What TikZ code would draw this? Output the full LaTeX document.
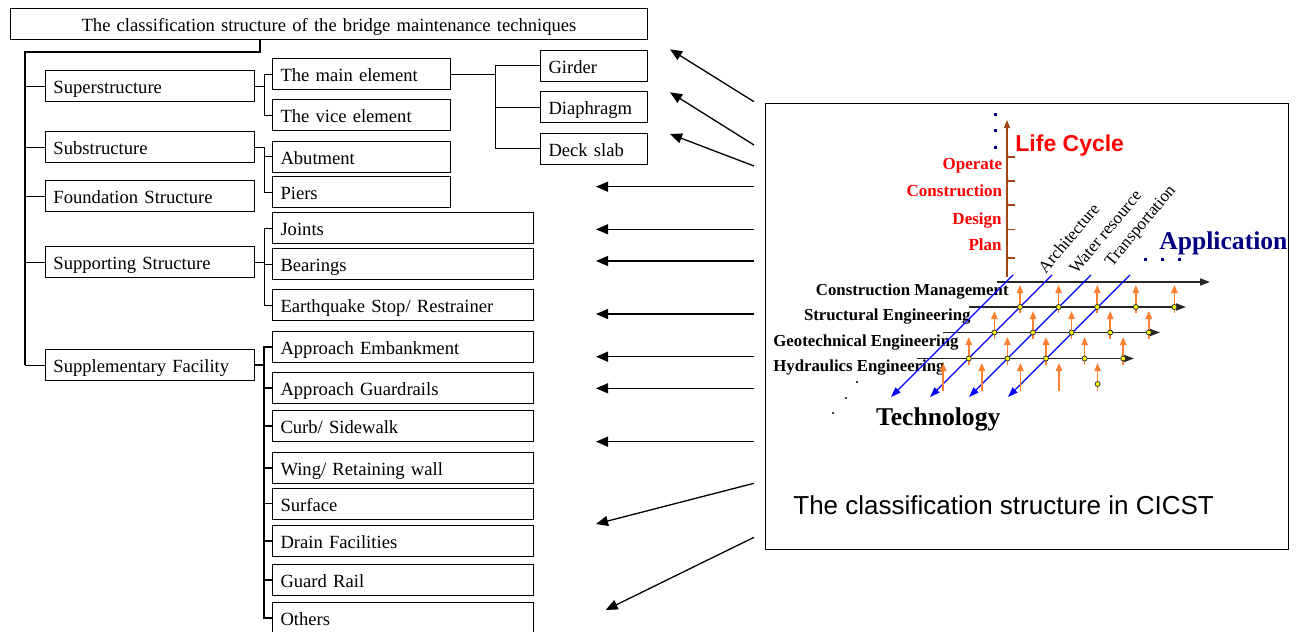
\documentclass[tikz,border=0pt]{standalone}
\usepackage{fontspec}
\setmainfont{Liberation Serif}
\newfontfamily\arialfont{Liberation Sans}
\usetikzlibrary{arrows.meta}
\definecolor{lcred}{RGB}{255,0,0}
\definecolor{axisbrown}{RGB}{160,70,20}
\definecolor{appnavy}{RGB}{0,0,128}
\definecolor{uporange}{RGB}{255,128,48}
\definecolor{dotyellow}{RGB}{255,255,0}

\begin{document}
\begin{tikzpicture}[x=0.5pt, y=-0.5pt,
    every node/.style={inner sep=0pt},
    box/.style={draw, line width=0.5pt, anchor=west, minimum height=15.5pt,
        text height=9.5pt, text depth=2pt, inner xsep=4pt, align=left,
        font=\fontsize{9.3}{11}\selectfont, text width=#1},
    link/.style={line width=0.5pt},
    pointer/.style={line width=0.65pt, -{Triangle[length=6pt,width=5pt]}},
    lcaxis/.style={axisbrown, line width=0.8pt},
    stage/.style={lcred, font=\bfseries\fontsize{8.5}{10}\selectfont, anchor=base east},
    techline/.style={black!85, line width=0.8pt, -{Triangle[length=5pt,width=3.5pt]}},
    techlab/.style={font=\bfseries\fontsize{8.4}{10}\selectfont, anchor=base east},
    appline/.style={blue, line width=0.6pt, -{Triangle[length=5pt,width=3.5pt]}},
    applab/.style={font=\fontsize{8.5}{10}\selectfont, rotate=50, anchor=south west},
    uparr/.style={uporange, line width=0.75pt, -{Triangle[length=4pt,width=3.2pt]}},
    gdot/.style={fill=dotyellow, draw=black!80, line width=0.4pt}]
    \useasboundingbox (0,0) rectangle (1298,632);

    % classification tree
    \node [box=310.5pt, align=center] (title) at (10,23.5)
        {The classification structure of the bridge maintenance techniques};

    \node [box=96.5pt] (super) at (45,86) {Superstructure};
    \node [box=96.5pt] (sub) at (45,147) {Substructure};
    \node [box=96.5pt] (found) at (45,196) {Foundation Structure};
    \node [box=96.5pt] (support) at (45,262) {Supporting Structure};
    \node [box=96.5pt] (supple) at (45,365) {Supplementary Facility};

    \node [box=81pt] (mainel) at (272,74) {The main element};
    \node [box=81pt] (viceel) at (272,115) {The vice element};
    \node [box=81pt] (abut) at (272,156.5) {Abutment};
    \node [box=81pt] (piers) at (272,192) {Piers};
    \node [box=122.5pt] (joints) at (272,228) {Joints};
    \node [box=122.5pt] (bearings) at (272,264) {Bearings};
    \node [box=122.5pt] (quake) at (272,305) {Earthquake Stop/ Restrainer};
    \node [box=122.5pt] (embank) at (272,347) {Approach Embankment};
    \node [box=122.5pt] (guardr) at (272,388) {Approach Guardrails};
    \node [box=122.5pt] (curb) at (272,426) {Curb/ Sidewalk};
    \node [box=122.5pt] (wing) at (272,468) {Wing/ Retaining wall};
    \node [box=122.5pt] (surface) at (272,503.5) {Surface};
    \node [box=122.5pt] (drain) at (272,541) {Drain Facilities};
    \node [box=122.5pt] (grail) at (272,580) {Guard Rail};
    \node [box=122.5pt] (others) at (272,618) {Others};

    \node [box=45.5pt] (girder) at (540,65.5) {Girder};
    \node [box=45.5pt] (diaph) at (540,107) {Diaphragm};
    \node [box=45.5pt] (deck) at (540,148.7) {Deck slab};

    \coordinate (trunk) at (25,52);
    \draw [link, line width=0.9pt] ([xshift=125pt]title.south west) |- (trunk) -- (trunk |- supple.west);
    \foreach \n in {super,sub,found,support,supple}
        \draw [link] (trunk |- \n.west) -- (\n.west);

    \draw [link] (super.east) -- ++(9,0) coordinate (bus1);
    \foreach \c in {mainel,viceel}
        \draw [link] (bus1) |- (\c.west);
    \draw [link] (sub.east) -- ++(9,0) coordinate (bus2);
    \foreach \c in {abut,piers}
        \draw [link] (bus2) |- (\c.west);
    \draw [link] (support.east) -- ++(9,0) coordinate (bus3);
    \foreach \c in {joints,bearings,quake}
        \draw [link] (bus3) |- (\c.west);
    \draw [link, line width=0.8pt] (supple.east) -- ++(9,0) coordinate (bus4);
    \foreach \c in {embank,guardr,curb,wing,surface,drain,grail,others}
        \draw [link, line width=0.8pt] (bus4) |- (\c.west);
    \draw [link] (mainel.east) -- ++(44.5,0) coordinate (bus5);
    \foreach \c in {girder,diaph,deck}
        \draw [link] (bus5) |- (\c.west);

    % arrows from the CICST structure
    \foreach \sy/\ex/\ey [count=\i] in {101.7/670/49.3, 145/670/92.3, 166/670/134,
        186.7/596/186.7, 229.3/596/229.3, 261/596/261, 314/596/314, 356.7/596/356.7,
        388.3/596/388.3, 441.7/596/441.7, 483.3/596/524, 537.3/605.7/610} {
        \coordinate (from\i) at (754,\sy);
        \coordinate (to\i) at (\ex,\ey);
        \draw [pointer] (from\i) -- (to\i);
    }

    % CICST box
    \node [draw, line width=0.6pt, minimum width=261.5pt, minimum height=223pt,
        anchor=north west] (cicst) at (765,102.5) {};
    \node [font=\arialfont\fontsize{13}{15}\selectfont, anchor=base west] (caption)
        at (793,514) {The classification structure in CICST};

    % life cycle axis
    \draw [lcaxis, -{Triangle[length=4pt,width=3pt]}] (1007,277) -- (1007,120);
    \foreach \ty in {156.7,181,205,229.3,257.7}
        \draw [lcaxis] (1007,\ty) -- (1015,\ty);
    \foreach \dy in {113,129,146}
        \fill [appnavy] (994,\dy) rectangle +(2.5,2.5);
    \node [stage] (operate) at (1002.5,169) {Operate};
    \node [stage] (constr) at (1002.5,196.7) {Construction};
    \node [stage] (design) at (1002,224) {Design};
    \node [stage] (plan) at (1002,250) {Plan};
    \node [lcred, font=\arialfont\bfseries\fontsize{11.5}{13}\selectfont, anchor=base west]
        (lifecycle) at (1015,151.7) {Life Cycle};

    % technology lines
    \draw [techline] (997,282) -- (1210,282);
    \draw [techline] (969,307) -- (1186,307);
    \draw [techline] (943,332.5) -- (1160,332.5);
    \draw [techline] (917,358.5) -- (1134,358.5);
    \node [techlab] (cm) at (1009,295) {Construction Management};
    \node [techlab] (se) at (971,320) {Structural Engineering};
    \node [techlab] (ge) at (959,346) {Geotechnical Engineering};
    \node [techlab] (he) at (945,371.7) {Hydraulics Engineering};

    % application lines
    \foreach \k in {0,...,3}
        \draw [appline] ({1013+39*\k},275) -- ({891+39*\k},397);
    \node [applab] (arch) at (1046,275) {Architecture};
    \node [applab] (water) at (1077,275) {Water resource};
    \node [applab] (trans) at (1115,270) {Transportation};
    \node [appnavy, font=\bfseries\fontsize{12.8}{15}\selectfont, anchor=base west]
        (appl) at (1159,249) {Application};
    \foreach \dx in {1144,1161,1178}
        \fill [appnavy] (\dx,258) rectangle +(2.5,2.5);

    % life cycle arrows and points
    \foreach \r in {0,...,3}
        \foreach \c in {0,...,4}
            \draw [uparr] ({1020-25.6*\r+38.6*\c},{313+26*\r}) -- ++(0,-28);
    \foreach \r/\ly in {0/307,1/332.5,2/358.5}
        \foreach \c in {0,...,4}
            \filldraw [gdot] ({1020-25.6*\r+38.6*\c},\ly) circle (2.5);
    \filldraw [gdot] (1097.6,384) circle (2.5);

    \node [font=\bfseries\fontsize{12.8}{15}\selectfont, anchor=base west]
        (tech) at (875.7,425.7) {Technology};
    \foreach \px/\py in {857/382,846/398,833/413}
        \fill (\px,\py) circle (1.2);
\end{tikzpicture}
\end{document}
